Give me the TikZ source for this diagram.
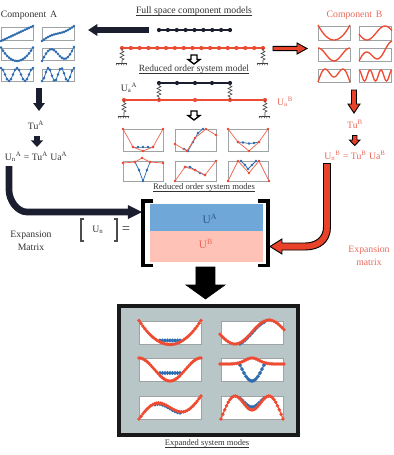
\documentclass[tikz,border=0pt]{standalone}
\usepackage{fontspec}
\setmainfont{Liberation Serif}
\usetikzlibrary{arrows.meta,decorations.pathmorphing}
\definecolor{navy}{HTML}{1B1E2E}
\definecolor{beamred}{HTML}{EE4B33}
\definecolor{arrowred}{HTML}{E8432A}
\definecolor{modeblue}{HTML}{2F6DB0}
\definecolor{txtred}{HTML}{E8695A}
\definecolor{boxgrey}{HTML}{9EA3A6}
\definecolor{panel}{HTML}{B9C6C8}
\definecolor{blueband}{HTML}{6FA8D8}
\definecolor{pinkband}{HTML}{FFC2B6}
\newcommand{\ulsmash}[1]{\underline{\smash{#1}}}
\newcommand{\subsup}[2]{\textsubscript{#1}\textsuperscript{#2}}
\tikzset{
  lbl/.style={inner sep=0pt,font=\fontsize{7.3}{9}\selectfont,align=center,text=black!80},
  redlbl/.style={lbl,text=txtred},
  modebox/.style={draw=boxgrey,line width=0.6pt,fill=white},
  dotblue/.style={draw=modeblue,line width=0.6pt,mark=*,mark size=0.65pt,mark options={fill=modeblue,draw=modeblue}},
  lineb/.style={draw=beamred,line width=1pt},
  thinred/.style={draw=beamred!85,line width=0.55pt,mark=*,mark size=0.7pt,mark options={fill=beamred,draw=beamred}},
  thinblue/.style={draw=modeblue,line width=0.55pt,mark=*,mark size=0.7pt,mark options={fill=modeblue,draw=modeblue}},
  expred/.style={draw=beamred,line width=0.85pt,mark=*,mark size=0.85pt,mark options={fill=beamred,draw=beamred}},
  expblue/.style={draw=modeblue,line width=0.9pt,mark=*,mark size=0.9pt,mark options={fill=modeblue,draw=modeblue}},
  beamblack/.style={draw=navy,line width=0.8pt},
  beamorange/.style={draw=beamred,line width=0.9pt},
  spring/.style={draw=black!75,line width=0.45pt,decorate,decoration={zigzag,amplitude=1.5pt,segment length=2.8pt,pre length=2pt,post length=2pt}},
  hollow/.style={draw=black,line width=1pt,fill=white,line join=miter},
  bracket/.style={draw=black,line width=2.4pt,line cap=butt},
  thinbracket/.style={draw=black!70,line width=0.8pt},
  blackarrow/.style={draw=black,fill=black},
  redarrow/.style={draw=black,line width=0.7pt,fill=arrowred}
}
% a grounded spring hanging from a beam: anchor x, top y, bottom y
\newcommand{\groundspring}[3]{%
  \draw[spring] (#1,#2) -- (#1,#3);
  \draw[draw=black!75,line width=0.5pt] (#1-5.5,#3) -- (#1+5.5,#3);
  \foreach \gx in {-5,-2.5,0,2.5,5}
    \draw[draw=black!75,line width=0.4pt] (#1+\gx,#3) -- (#1+\gx-1,#3+2.2);
}
\begin{document}
\begin{tikzpicture}[x=0.75pt,y=-0.75pt]
\useasboundingbox (0,0) rectangle (394,455);

% ---- component A: free-interface modes ----
\node[lbl] (compA) at (29,15) {Component\hspace{1pt} A};
\foreach \bx in {1,42}
  \foreach \by/\bh in {27/13,48/12.5,69/12.5}
    \draw[modebox] (\bx,\by) rectangle (\bx+32,\by+\bh);
\draw[dotblue] plot[domain=1:33,samples=17] (\x,{41-(\x-1)*15/32});
\draw[dotblue] plot[domain=42:74,samples=17] (\x,{41-(\x-42)*15/32-1.3*sin(360*(\x-42)/32)});
\draw[dotblue] plot[domain=1:33,samples=17] (\x,{61-13.5*((\x-17)/16)^2});
\draw[dotblue] plot[domain=42:74,samples=17] (\x,{61-(\x-42)*14/32-8*sin(360*(\x-42)/32)});
\draw[dotblue] plot[domain=1:33,samples=17] (\x,{74.5-6.5*cos(360*(\x-17)/16)});
\draw[dotblue] plot[domain=42:74,samples=17] (\x,{74.5+6.5*cos(360*(\x-42)/12.8)});

% ---- component B: free-interface modes ----
\node[redlbl] (compB) at (354.5,15) {Component\hspace{1pt} B};
\foreach \bx in {318,359}
  \foreach \by/\bh in {26.5/13.5,48/13,69/13}
    \draw[modebox] (\bx,\by) rectangle (\bx+32,\by+\bh);
\draw[lineb] plot[smooth,domain=318:350,samples=25] (\x,{40-15*((\x-334)/16)^2});
\draw[lineb] plot[smooth,domain=359:392,samples=25] (\x,{33+7*cos(360*(\x-367)/36)});
\draw[lineb] plot[smooth,domain=318:350,samples=25] (\x,{54.5+6.5*cos(360*(\x-334)/32)});
\draw[lineb] plot[smooth,domain=359:392,samples=25] (\x,{61-(\x-359)*14/33-6*sin(360*(\x-359)/26)});
\draw[lineb] plot[smooth,domain=318:350,samples=41]
  (\x,{(abs((\x-334)/16)<0.56 ? 73+4*cos(180*(\x-334)/16/0.56) : 69+13*(1-cos(90*(abs((\x-334)/16)-0.56)/0.44)))});
\draw[lineb] plot[smooth,domain=359:392,samples=49] (\x,{75.5-5.5*cos(360*(\x-359)/11)});

% ---- full space component models ----
\node[lbl] (fulltitle) at (194,15) {\ulsmash{Full space component models}};
\coordinate (blackL) at (159,30); \coordinate (blackR) at (230,30);
\draw[beamblack] (blackL) -- (blackR);
\foreach \i in {0,...,8} \fill[navy] (159+\i*8.875,30) circle[radius=2.1];
\coordinate (redL) at (122,48); \coordinate (redR) at (263,48);
\draw[beamorange] (redL) -- (redR);
\foreach \i in {0,...,16} \fill[beamred] (122+\i*8.8125,48) circle[radius=2.1];
\groundspring{122}{48}{63}
\groundspring{263}{48}{63}
\draw[hollow] (191,55) -- (197,55) -- (197,59.5) -- (200,59.5) -- (194,64) -- (188,59.5) -- (191,59.5) -- cycle;

% ---- reduced order system model ----
\node[lbl] (redtitle) at (194,73) {\fontsize{7.1}{9}\selectfont\ulsmash{Reduced order system model}};
\coordinate (rblackL) at (159,83); \coordinate (rblackR) at (230,83);
\draw[beamblack] (rblackL) -- (rblackR);
\foreach \rx in {159,177,195,212,230} \fill[navy] (\rx,83) circle[radius=2.1];
\coordinate (rredL) at (124,100); \coordinate (rredR) at (265,100);
\draw[beamorange] (rredL) -- (rredR);
\foreach \rx in {124,159,195,230,265} \fill[beamred] (\rx,100) circle[radius=2.1];
\draw[spring] (159,83) -- (159,100);
\draw[spring] (230,83) -- (230,100);
\groundspring{124}{100}{116}
\groundspring{265}{100}{116}
\node[lbl] (uaA) at (129,88) {U\subsup{a}{A}};
\node[redlbl] (uaB) at (285,102) {U\subsup{a}{B}};
\draw[hollow] (191,111) -- (197,111) -- (197,115.5) -- (200,115.5) -- (194,120) -- (188,115.5) -- (191,115.5) -- cycle;

% ---- reduced order system modes ----
\foreach \bx/\bw in {123/40,175/41,228/40} {
  \draw[modebox] (\bx,129) rectangle (\bx+\bw,151);
  \draw[modebox] (\bx,161) rectangle (\bx+\bw,181);
}
\draw[thinblue] plot coordinates {(133,147) (138,147) (143,147) (148,147) (153,147)};
\draw[thinred] plot coordinates {(123,129) (133,147) (143,151) (153,147) (163,129)};
\draw[thinblue] plot coordinates {(184,149) (188,151) (193,142) (198,133) (203,129)};
\draw[thinred] plot coordinates {(175,144) (187,151) (195,138) (206,129) (216,135)};
\draw[thinblue] plot coordinates {(238,142) (243,142.5) (249,143.5) (254,143) (259,142)};
\draw[thinred] plot coordinates {(228,129) (238,142) (249,151) (259,142) (268,129)};
\draw[thinblue] plot coordinates {(135,162) (139,170) (143,181) (147,170) (150,162)};
\draw[thinred] plot coordinates {(123,163) (135,162) (142,158) (150,162) (163,163)};
\draw[thinblue] plot coordinates {(185,167) (190,167) (195,170) (200,173) (205,175)};
\draw[thinred] plot coordinates {(175,181) (185,167) (195,170) (205,175) (216,161)};
\draw[thinblue] plot coordinates {(241,161) (245,165) (248,169) (252,165) (256,161)};
\draw[thinred] plot coordinates {(228,181) (238,161) (249,173) (259,161) (269,181)};
\node[lbl] (redmodes) at (204,191) {\fontsize{6.5}{8}\selectfont\ulsmash{Reduced order system modes}};

% ---- projection arrows between the models ----
\coordinate (toAfrom) at (149,30); \coordinate (toAto) at (88,30);
\draw[navy,line width=4.3pt,-{Triangle[length=7pt,width=8.5pt]}] (toAfrom) -- (toAto);
\draw[redarrow] (273,46.3) -- (297,46.3) -- (297,43) -- (307,48.5) -- (297,54) -- (297,50.7) -- (273,50.7) -- cycle;

% ---- component A expansion relation ----
\coordinate (a1) at (39,88); \coordinate (a2) at (39,111);
\draw[navy,line width=4.5pt,-{Triangle[length=6pt,width=8.5pt]}] (a1) -- (a2);
\node[lbl] (tuA) at (36,125) {Tu\textsuperscript{A}};
\coordinate (a3) at (37,136); \coordinate (a4) at (37,147);
\draw[navy,line width=4.5pt,-{Triangle[length=5pt,width=9pt]}] (a3) -- (a4);
\node[lbl] (unA) at (36,157) {U\subsup{n}{A} = Tu\textsuperscript{A} Ua\textsuperscript{A}};

% ---- component B expansion relation ----
\draw[redarrow] (351.5,90) -- (356.5,90) -- (356.5,104) -- (360,104) -- (354,113) -- (348,104) -- (351.5,104) -- cycle;
\node[redlbl] (tuB) at (355,124) {Tu\textsuperscript{B}};
\draw[redarrow] (352.5,135.5) -- (357,135.5) -- (357,140) -- (360,140) -- (354.7,145.5) -- (349.5,140) -- (352.5,140) -- cycle;
\node[redlbl] (unB) at (355,156) {U\subsup{n}{B} = Tu\textsuperscript{B} Ua\textsuperscript{B}};

% ---- assembled expansion matrix ----
\fill[blueband] (150,204) rectangle (263,231);
\fill[pinkband] (150,231) rectangle (263,262);
\node[lbl,text=modeblue!80!black] (uA) at (210,219) {\fontsize{8.5}{10}\selectfont U\textsuperscript{A}};
\node[redlbl] (uB) at (206,244) {\fontsize{8.5}{10}\selectfont U\textsuperscript{B}};
\draw[bracket] (153,201) -- (143,201) -- (143,265.5) -- (153,265.5);
\draw[bracket] (258,201) -- (268,201) -- (268,265.5) -- (258,265.5);

\draw[thinbracket] (84,219) -- (81,219) -- (81,241) -- (84,241);
\draw[thinbracket] (114,219) -- (117,219) -- (117,241) -- (114,241);
\node[lbl] (un) at (98,230) {U\textsubscript{n}};
\node[lbl,font=\fontsize{11}{12}\selectfont] (eq) at (126,230.5) {=};

% ---- thick curved arrows feeding the matrix ----
\coordinate (capA) at (9,166); \coordinate (tipA) at (142,212);
\draw[navy,line width=5pt] (capA) -- (9,190) to[out=-90,in=180,looseness=0.9] (27,212) -- (128,212);
\fill[navy] (128,205) -- (tipA) -- (128,219) -- cycle;

\fill[arrowred,draw=black,line width=0.7pt]
  (323.5,163.5) -- (330.5,163.5) -- (330.5,227)
  .. controls (330.5,242) and (320,250) .. (305,250)
  -- (282,250) -- (282,254) -- (270,246.5) -- (282,239) -- (282,243) -- (305,243)
  .. controls (316,243) and (323.5,237) .. (323.5,227) -- cycle;

\node[lbl] (expA) at (31,241) {Expansion\\[1pt]Matrix};
\node[redlbl] (expB) at (369,256) {Expansion\\[1pt]matrix};

% ---- large arrow down to the expanded modes ----
\fill[blackarrow] (196,267) -- (215,267) -- (215,285) -- (225,285) -- (205.5,299) -- (186,285) -- (196,285) -- cycle;

% ---- expanded system modes ----
\draw[draw=black!90,line width=3pt,fill=panel] (119,306) rectangle (298,435);
\foreach \bx in {139,221}
  \foreach \by in {321,358,396}
    \draw[modebox] (\bx,\by) rectangle (\bx+62,\by+23);

% first row
\draw[expblue] plot[domain=160:180,samples=9] (\x,{340.5});
\draw[expred] plot[domain=139:201,samples=33] (\x,{344.5-24*((\x-170)/31)^2});
\draw[expblue] plot[domain=240:264,samples=11] (\x,{333+12*cos((\x-235)*180/34)});
\draw[expred] plot[domain=220:284,samples=33] (\x,{332+12*cos((\x-235)*180/34)});
% second row
\draw[expblue] plot[domain=160:180,samples=9] (\x,{373});
\draw[expred] plot[domain=139:201,samples=33] (\x,{369.5+11.5*cos((\x-170)*180/31)});
\draw[expblue] plot[domain=240:264,samples=13] (\x,{365+16*cos(90*(\x-252)/12)});
\draw[expred] plot[domain=220:284,samples=33] (\x,{364-6*exp(-((\x-252)/10)^2)});
% third row
\draw[expblue] plot[domain=155:180,samples=11] (\x,{420-(\x-139)*23/62-9.5*sin((\x-139)/62*360)});
\draw[expred] plot[domain=139:201,samples=33] (\x,{419-(\x-139)*23/62-9.5*sin((\x-139)/62*360)});
\draw[expblue] plot[domain=240:264,samples=11]
  (\x,{401.5+5.5*cos(180*(\x-252)/31/0.55)});
\draw[expred] plot[domain=221:283,samples=35]
  (\x,{(abs((\x-252)/31)<0.55 ? 403+7*cos(180*(\x-252)/31/0.55) : 396+23*(1-cos(90*(abs((\x-252)/31)-0.55)/0.45)))});
\node[lbl] (expcap) at (207,447) {\fontsize{6.4}{8}\selectfont\ulsmash{Expanded system modes}};
\end{tikzpicture}
\end{document}
